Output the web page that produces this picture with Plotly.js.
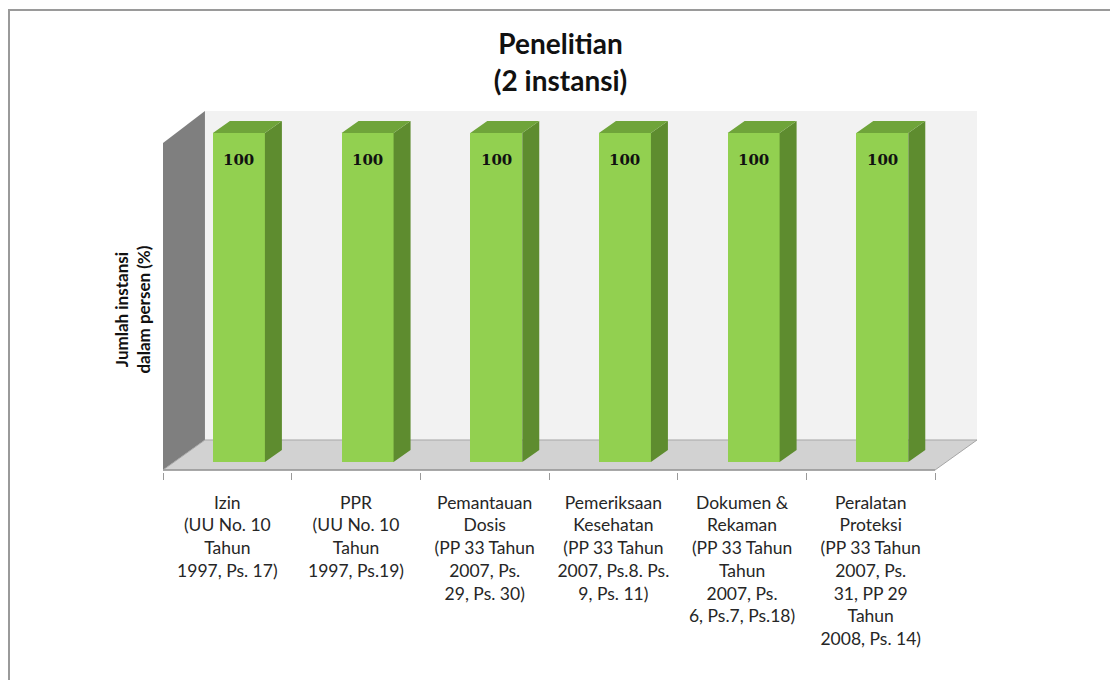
<!DOCTYPE html>
<html>
<head>
<meta charset="utf-8">
<script src="https://cdn.plot.ly/plotly-3.0.1.min.js"></script>
<style>
  html, body { margin: 0; padding: 0; background: #ffffff; }
  #frame { position: absolute; left: 8px; top: 9px; width: 1102px; height: 671px;
           border-left: 2px solid #9a9a9a; border-top: 2px solid #9a9a9a; box-sizing: border-box; }
  #chart { position: absolute; left: 0; top: 0; width: 1110px; height: 680px; }
</style>
</head>
<body>
<div id="frame"></div>
<div id="chart"></div>
<script>
// ---- data ----
const categories = [
  "Izin<br>(UU No. 10<br>Tahun<br>1997, Ps. 17)",
  "PPR<br>(UU No. 10<br>Tahun<br>1997, Ps.19)",
  "Pemantauan<br>Dosis<br>(PP 33 Tahun<br>2007, Ps.<br>29, Ps. 30)",
  "Pemeriksaan<br>Kesehatan<br>(PP 33 Tahun<br>2007, Ps.8. Ps.<br>9, Ps. 11)",
  "Dokumen &<br>Rekaman<br>(PP 33 Tahun<br>Tahun<br>2007, Ps.<br>6, Ps.7, Ps.18)",
  "Peralatan<br>Proteksi<br>(PP 33 Tahun<br>2007, Ps.<br>31, PP 29<br>Tahun<br>2008, Ps. 14)"
];
const values = [100, 100, 100, 100, 100, 100];
const valueLabels = ["100", "100", "100", "100", "100", "100"];
const chartTitle = "Penelitian<br>(2 instansi)";
const yTitle = "Jumlah instansi<br>dalam persen (%)";

// ---- style / geometry constants ----
const idx = categories.map((_, i) => i);
const barOffset = -0.112, barWidth = 0.404;   // front face
const depthX = 0.132, depthY = 3.65;          // bar depth
const xr = [-0.5, 5.826], yr = [-3.04, 106.7];
const wallX = -0.174, floorFront = -2.43, floorBack = 6.69, leftWallTop = 96.96;

// side & top faces as polygons derived from values
const sideX = [], sideY = [], topX = [], topY = [];
idx.forEach(i => {
  const v = values[i];
  const l = i + barOffset, r = l + barWidth;
  sideX.push(r, r, r + depthX, r + depthX, r, null);
  sideY.push(0, v, v + depthY, depthY, 0, null);
  topX.push(l, r, r + depthX, l + depthX, l, null);
  topY.push(v, v, v + depthY, v + depthY, v, null);
});

const traces = [
  { type: 'bar', x: idx, y: values, offset: barOffset, width: barWidth,
    marker: { color: '#92d050', line: { width: 0 } }, hoverinfo: 'skip', showlegend: false },
  { type: 'scatter', x: sideX, y: sideY, mode: 'lines', fill: 'toself', fillcolor: '#5e8c2f',
    line: { width: 0, color: '#5e8c2f' }, connectgaps: false, hoverinfo: 'skip', showlegend: false },
  { type: 'scatter', x: topX, y: topY, mode: 'lines', fill: 'toself', fillcolor: '#6fa43a',
    line: { width: 0, color: '#6fa43a' }, connectgaps: false, hoverinfo: 'skip', showlegend: false },
  // helper trace to activate xaxis2 (tick marks at category boundaries)
  { type: 'scatter', x: [xr[0]], y: [yr[0]], xaxis: 'x2', mode: 'markers',
    marker: { opacity: 0 }, hoverinfo: 'skip', showlegend: false }
];

const shapes = [
  // back wall
  { type: 'rect', xref: 'x', yref: 'y', x0: wallX, x1: xr[1], y0: floorBack, y1: yr[1],
    fillcolor: '#f2f2f2', line: { width: 0 }, layer: 'below' },
  // left wall
  { type: 'path', xref: 'x', yref: 'y',
    path: `M ${xr[0]} ${floorFront} L ${xr[0]} ${leftWallTop} L ${wallX} ${yr[1]} L ${wallX} ${floorBack} Z`,
    fillcolor: '#7f7f7f', line: { width: 0 }, layer: 'below' },
  // floor
  { type: 'path', xref: 'x', yref: 'y',
    path: `M ${xr[0]} ${floorFront} L ${wallX} ${floorBack} L ${xr[1]} ${floorBack} L 5.5 ${floorFront} Z`,
    fillcolor: '#d2d2d2', line: { width: 1, color: '#a6a6a6' }, layer: 'below' },
  // front axis line
  { type: 'line', xref: 'x', yref: 'y', x0: xr[0], x1: 5.5, y0: floorFront, y1: floorFront,
    line: { width: 1.5, color: '#9a9a9a' }, layer: 'below' }
];

const annotations = idx.map(i => ({
  x: i + barOffset + barWidth / 2, y: values[i], xref: 'x', yref: 'y',
  text: valueLabels[i], showarrow: false, yshift: -27,
  font: { family: 'DejaVu Serif', size: 15, color: '#111111', weight: 'bold' }
}));
annotations.push({
  xref: 'paper', yref: 'paper', x: -0.038, y: 0.45, xanchor: 'center', yanchor: 'middle',
  text: yTitle, textangle: -90, showarrow: false,
  font: { family: 'Lato', size: 17, color: '#111111', weight: 'bold' }
});

const layout = {
  width: 1110, height: 680,
  margin: { l: 163, r: 133, t: 111, b: 208 },
  paper_bgcolor: 'rgba(0,0,0,0)', plot_bgcolor: 'rgba(0,0,0,0)',
  title: { text: chartTitle, x: 0.505, xref: 'container', xanchor: 'center',
           y: 0.92, yref: 'container', yanchor: 'middle',
           font: { family: 'Lato', size: 28, color: '#111111', weight: 'bold' } },
  xaxis: { range: xr, tickvals: idx, ticktext: categories, ticks: '', showline: false,
           showgrid: false, zeroline: false, ticklabelstandoff: 18,
           tickfont: { family: 'Lato', size: 17.5, color: '#262626' } },
  xaxis2: { range: xr, overlaying: 'x', anchor: 'y', side: 'bottom',
            tickvals: [-0.5, 0.5, 1.5, 2.5, 3.5, 4.5, 5.5], ticks: 'outside', ticklen: 7,
            tickcolor: '#9a9a9a', showticklabels: false, showgrid: false, zeroline: false, showline: false },
  yaxis: { range: yr, showgrid: false, zeroline: false, showticklabels: false, ticks: '', showline: false },
  shapes: shapes,
  annotations: annotations,
  bargap: 0
};

Plotly.newPlot('chart', traces, layout, { displayModeBar: false, staticPlot: true });
</script>
</body>
</html>
